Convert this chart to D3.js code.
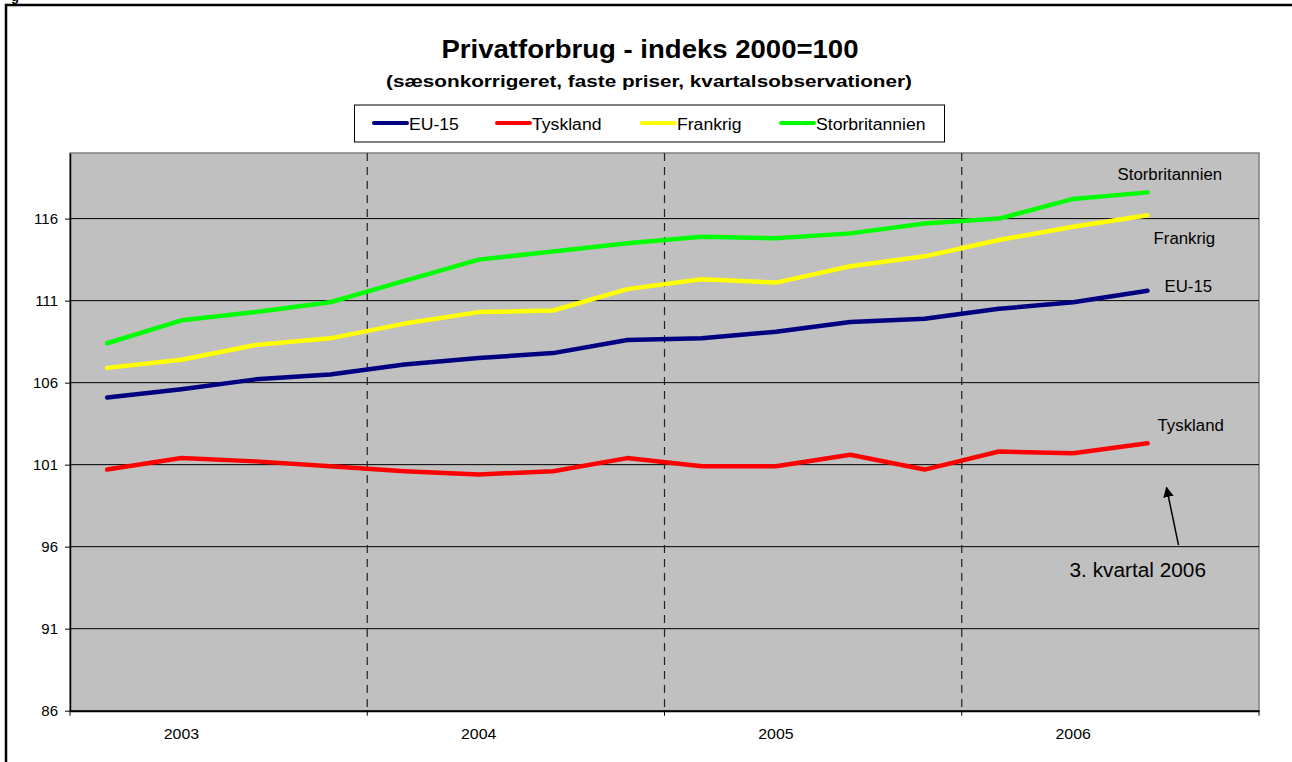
<!DOCTYPE html>
<html>
<head>
<meta charset="utf-8">
<script src="https://cdn.jsdelivr.net/npm/d3@7"></script>
<style>
  body { margin: 0; background: #fff; }
  svg { font-family: "Liberation Sans", Arial, sans-serif; }
</style>
</head>
<body>
<svg id="chart" width="1292" height="762"></svg>
<script>
// Data (kvartalsvise indeks, 2000=100)
const years = ["2003", "2004", "2005", "2006"];
const quarters = ["K1", "K2", "K3", "K4"];
const yTicks = [86, 91, 96, 101, 106, 111, 116];

const eu15 = [105.1, 105.6, 106.2, 106.5, 107.1, 107.5, 107.8, 108.6, 108.7, 109.1, 109.7, 109.9, 110.5, 110.9, 111.6];
const tyskland = [100.7, 101.4, 101.2, 100.9, 100.6, 100.4, 100.6, 101.4, 100.9, 100.9, 101.6, 100.7, 101.8, 101.7, 102.3];
const frankrig = [106.9, 107.4, 108.3, 108.7, 109.6, 110.3, 110.4, 111.7, 112.3, 112.1, 113.1, 113.7, 114.7, 115.5, 116.2];
const storbritannien = [108.4, 109.8, 110.3, 110.9, 112.2, 113.5, 114.0, 114.5, 114.9, 114.8, 115.1, 115.7, 116.0, 117.2, 117.6];

const series = [
    { name: "EU-15", values: eu15, color: "#000080", lx: 17, ly: -4 },
    { name: "Tyskland", values: tyskland, color: "#ff0000", lx: 10, ly: -17 },
    { name: "Frankrig", values: frankrig, color: "#ffff00", lx: 6, ly: 24 },
    { name: "Storbritannien", values: storbritannien, color: "#00ff00", lx: -30, ly: -17 }
];

const svg = d3.select("#chart");
const plot = { left: 70, right: 1259, top: 153, bottom: 710.7 };

// the source rendering is a bit wider than plain Arial, stretch text to match
function stretch(sel, k) {
    sel.each(function () {
        const w = this.getComputedTextLength();
        d3.select(this).attr("textLength", w * k).attr("lengthAdjust", "spacingAndGlyphs");
    });
}

// quarter slots across all years
const slots = years.flatMap(y => quarters.map(q => y + q));

const x = d3.scaleBand().domain(slots).range([plot.left, plot.right]).padding(0);
const xYear = d3.scaleBand().domain(years).range([plot.left, plot.right]).padding(0);
const y = d3.scaleLinear().domain([86, 120]).range([plot.bottom, plot.top]);

const xc = i => x(slots[i]) + x.bandwidth() / 2;

// outer frame
svg.append("rect")
    .attr("x", 6).attr("y", 5)
    .attr("width", 1300).attr("height", 800)
    .attr("fill", "none").attr("stroke", "#000").attr("stroke-width", 2.5);

svg.append("text")
    .attr("x", 11).attr("y", 1)
    .attr("font-size", 13).attr("font-weight", "bold")
    .text("g");

// titles
const title = svg.append("text")
    .attr("x", 650).attr("y", 58)
    .attr("text-anchor", "middle")
    .attr("font-size", 25).attr("font-weight", "bold")
    .text("Privatforbrug - indeks 2000=100");
title.attr("textLength", 417).attr("lengthAdjust", "spacingAndGlyphs");

const subtitle = svg.append("text")
    .attr("x", 649).attr("y", 87)
    .attr("text-anchor", "middle")
    .attr("font-size", 16.5).attr("font-weight", "bold")
    .text("(sæsonkorrigeret, faste priser, kvartalsobservationer)");
subtitle.attr("textLength", 526).attr("lengthAdjust", "spacingAndGlyphs");

// legend
const legend = svg.append("g");
legend.append("rect")
    .attr("x", 354.5).attr("y", 105)
    .attr("width", 590).attr("height", 37)
    .attr("fill", "#fff").attr("stroke", "#000").attr("stroke-width", 1);

const legendX = [374, 497, 642, 781];
series.forEach((s, i) => {
    legend.append("line")
        .attr("x1", legendX[i]).attr("x2", legendX[i] + 33)
        .attr("y1", 123).attr("y2", 123)
        .attr("stroke", s.color).attr("stroke-width", 4)
        .attr("stroke-linecap", "round");
    legend.append("text")
        .attr("x", legendX[i] + 35).attr("y", 129.5)
        .attr("font-size", 16)
        .text(s.name)
        .call(stretch, 1.1);
});

// plot background
svg.append("rect")
    .attr("x", plot.left).attr("y", plot.top)
    .attr("width", plot.right - plot.left).attr("height", plot.bottom - plot.top)
    .attr("fill", "#c0c0c0").attr("stroke", "#808080").attr("stroke-width", 1.5);

// horizontal gridlines
svg.append("g")
    .selectAll("line")
    .data(yTicks.slice(1))
    .join("line")
    .attr("x1", plot.left).attr("x2", plot.right)
    .attr("y1", d => y(d)).attr("y2", d => y(d))
    .attr("stroke", "#000").attr("stroke-width", 1);

// dashed year separators
svg.append("g")
    .selectAll("line")
    .data(years.slice(1))
    .join("line")
    .attr("x1", d => xYear(d)).attr("x2", d => xYear(d))
    .attr("y1", plot.top).attr("y2", plot.bottom)
    .attr("stroke", "#222").attr("stroke-width", 1.2)
    .attr("stroke-dasharray", "8,6");

// y axis
const yAxis = svg.append("g")
    .attr("transform", `translate(${plot.left},0)`)
    .call(d3.axisLeft(y).tickValues(yTicks).tickSize(5).tickSizeOuter(0).tickPadding(7).tickFormat(d3.format("d")));
yAxis.select(".domain").attr("stroke", "#000").attr("stroke-width", 1.5);
yAxis.selectAll("text").attr("font-size", 15).attr("fill", "#000")
    .attr("font-family", "'Liberation Sans', Arial, sans-serif");

// x axis line with ticks at the year boundaries
const xAxis = svg.append("g")
    .attr("transform", `translate(0,${plot.bottom})`)
    .call(d3.axisBottom(xYear).tickSize(0).tickFormat(""));
xAxis.select(".domain").attr("stroke", "#000").attr("stroke-width", 2);

svg.append("g")
    .selectAll("line")
    .data(years.concat(["end"]))
    .join("line")
    .attr("x1", (d, i) => i < years.length ? xYear(d) : plot.right)
    .attr("x2", (d, i) => i < years.length ? xYear(d) : plot.right)
    .attr("y1", plot.bottom).attr("y2", plot.bottom + 5)
    .attr("stroke", "#000").attr("stroke-width", 1);

// year labels sit under the 2nd quarter of each year
svg.append("g")
    .selectAll("text")
    .data(years)
    .join("text")
    .attr("x", d => x(d + quarters[1]) + x.bandwidth() / 2)
    .attr("y", plot.bottom + 28)
    .attr("text-anchor", "middle")
    .attr("font-size", 15)
    .text(d => d)
    .call(stretch, 1.06);

// series lines
const line = d3.line()
    .x((d, i) => xc(i))
    .y(d => y(d));

series.forEach(s => {
    svg.append("path")
        .datum(s.values)
        .attr("d", line)
        .attr("fill", "none")
        .attr("stroke", s.color)
        .attr("stroke-width", 4.5)
        .attr("stroke-linejoin", "round")
        .attr("stroke-linecap", "round");
});

// end labels
series.forEach(s => {
    const last = s.values.length - 1;
    svg.append("text")
        .attr("x", xc(last) + s.lx)
        .attr("y", y(s.values[last]) + s.ly + 5)
        .attr("font-size", 16)
        .attr("fill", "#000")
        .text(s.name)
        .call(stretch, 1.05);
});

// annotation arrow
svg.append("defs").append("marker")
    .attr("id", "arrow")
    .attr("viewBox", "0 0 10 10")
    .attr("refX", 9).attr("refY", 5)
    .attr("markerWidth", 7).attr("markerHeight", 9)
    .attr("orient", "auto")
    .append("path")
    .attr("d", "M0,0 L10,5 L0,10 z")
    .attr("fill", "#000");

const lastI = eu15.length - 1;
svg.append("line")
    .attr("x1", xc(lastI) + 31).attr("y1", y(96.1))
    .attr("x2", xc(lastI) + 19).attr("y2", y(99.6))
    .attr("stroke", "#000").attr("stroke-width", 1.5)
    .attr("marker-end", "url(#arrow)");

svg.append("text")
    .attr("x", xc(lastI) - 78).attr("y", y(94.6) + 7)
    .attr("font-size", 20)
    .text("3. kvartal 2006")
    .call(stretch, 1.04);
</script>
</body>
</html>
